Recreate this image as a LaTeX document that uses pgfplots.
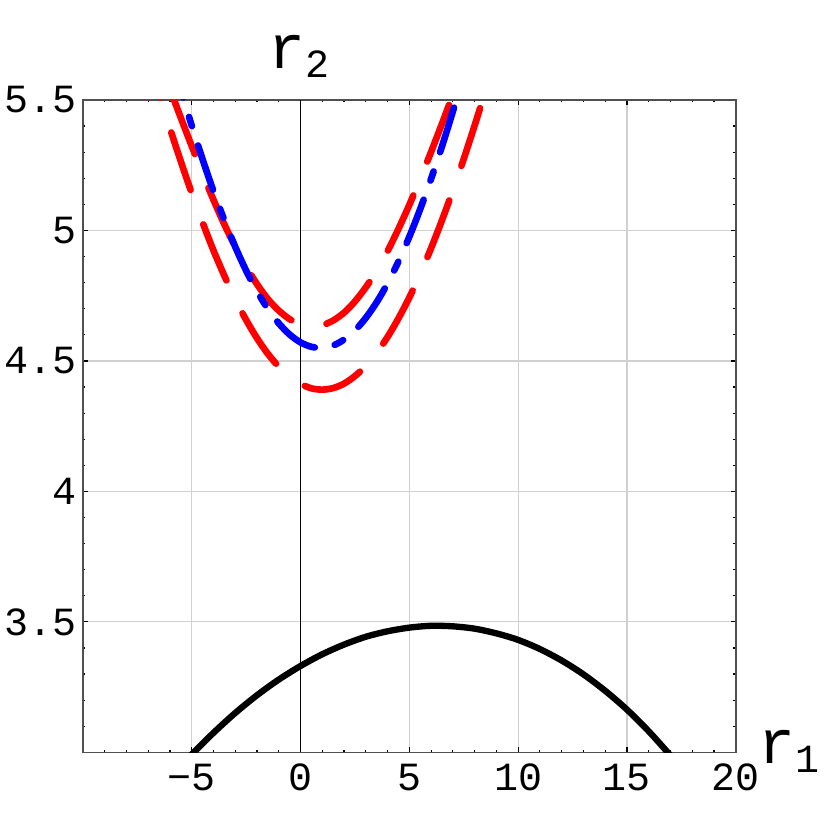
\documentclass[border=0pt]{standalone}
\usepackage{fontspec}
\setmainfont{Liberation Mono}
\usepackage{pgfplots}
\pgfplotsset{compat=1.18}
\definecolor{gridgray}{RGB}{208,208,208}
\definecolor{framegray}{RGB}{80,80,80}

\begin{document}
\begin{tikzpicture}
\begin{axis}[
    scale only axis,
    width=195.9pt, height=195.8pt,
    xmin=-10, xmax=20, ymin=3, ymax=5.5,
    xtick={-10,-5,...,20},
    xticklabels={,−5,0,5,10,15,20},
    ytick={3,3.5,...,5.5},
    yticklabels={,3.5,4,4.5,5,5.5},
    minor x tick num=4, minor y tick num=4,
    tick align=inside,
    major tick length=1.5pt, minor tick length=0.75pt,
    tick style={black, line width=0.35pt},
    grid=major,
    major grid style={gridgray, line width=0.35pt},
    axis line style={framegray, line width=0.5pt},
    xticklabel style={font=\fontsize{12}{14}\selectfont, inner sep=0pt, anchor=north, yshift=-3.3pt},
    yticklabel style={font=\fontsize{12}{14}\selectfont, inner sep=0pt, anchor=east, xshift=-1.6pt},
    /pgf/number format/assume math mode=true,
    extra x ticks={0},
    extra x tick labels={},
    extra x tick style={grid=major, major grid style={black, line width=0.35pt}, major tick length=0pt},
]
% outer red curve
\addplot[red, line width=2pt, line cap=round, dash pattern=on 18.2pt off 11pt, dash phase=17pt, smooth] coordinates {
    (-6.5,5.524) (-6.0,5.391) (-5.5,5.264) (-5.0,5.143) (-4.5,5.030) (-4.0,4.923)
    (-3.5,4.826) (-3.0,4.736) (-2.5,4.657) (-2.0,4.587) (-1.5,4.527) (-1.0,4.478)
    (-0.5,4.439) (0.0,4.412) (0.5,4.395) (1.0,4.390) (1.5,4.396) (2.0,4.413)
    (2.5,4.442) (3.0,4.481) (3.5,4.531) (4.0,4.592) (4.5,4.663) (5.0,4.743)
    (5.5,4.833) (6.0,4.932) (6.5,5.039) (7.0,5.153) (7.5,5.274) (8.0,5.402) (8.5,5.535)};
% inner red curve
\addplot[red, line width=2pt, line cap=round, dash pattern=on 18.2pt off 11pt, dash phase=26.5pt, smooth] coordinates {
    (-6.0,5.542) (-5.5,5.431) (-5.0,5.323) (-4.5,5.217) (-4.0,5.117) (-3.5,5.023)
    (-3.0,4.938) (-2.5,4.861) (-2.0,4.794) (-1.5,4.737) (-1.0,4.693) (-0.5,4.660)
    (0.0,4.640) (0.5,4.632) (1.0,4.637) (1.5,4.655) (2.0,4.685) (2.5,4.728)
    (3.0,4.782) (3.5,4.846) (4.0,4.921) (4.5,5.006) (5.0,5.098) (5.5,5.197)
    (6.0,5.301) (6.5,5.409) (7.0,5.520)};
% blue curve
\addplot[blue, line width=2pt, line cap=round, dash pattern=on 2.9pt off 6.1pt on 14pt off 6.1pt, dash phase=20.6pt, smooth] coordinates {
    (-5.5,5.539) (-5.0,5.401) (-4.5,5.272) (-4.0,5.150) (-3.5,5.039) (-3.0,4.937)
    (-2.5,4.846) (-2.0,4.767) (-1.5,4.699) (-1.0,4.644) (-0.5,4.601) (0.0,4.571)
    (0.5,4.554) (1.0,4.550) (1.5,4.559) (2.0,4.582) (2.5,4.617) (3.0,4.665)
    (3.5,4.725) (4.0,4.797) (4.5,4.881) (5.0,4.976) (5.5,5.082) (6.0,5.198)
    (6.5,5.322) (7.0,5.456) (7.5,5.596)};
% black curve
\addplot[black, line width=1.9pt, smooth] coordinates {
    (-5.5,2.947) (-5,2.992) (-4,3.075) (-3,3.151) (-2,3.219) (-1,3.279) (0,3.331)
    (1,3.376) (2,3.413) (3,3.443) (4,3.464) (5,3.478) (6,3.485) (7,3.483)
    (8,3.474) (9,3.456) (10,3.431) (11,3.396) (12,3.352) (13,3.299) (14,3.236)
    (15,3.164) (16,3.081) (17,2.988) (17.5,2.937)};
\coordinate (sw) at (rel axis cs:0,0);
\coordinate (ne) at (rel axis cs:1,1);
\end{axis}
\node[anchor=base west, inner sep=0pt] at ([shift={(55.5pt,205.3pt)}]sw)
    {\fontsize{18.5}{20}\selectfont r\raisebox{-2.7pt}{\fontsize{12}{14}\selectfont 2}};
\node[anchor=base west, inner sep=0pt] at ([shift={(202.5pt,-3.2pt)}]sw)
    {\fontsize{18.5}{20}\selectfont r\raisebox{-2.7pt}{\fontsize{12}{14}\selectfont 1}};
\path ([shift={(-24.9pt,-23.3pt)}]sw) rectangle ([shift={(28.2pt,30pt)}]ne);
\end{tikzpicture}
\end{document}
